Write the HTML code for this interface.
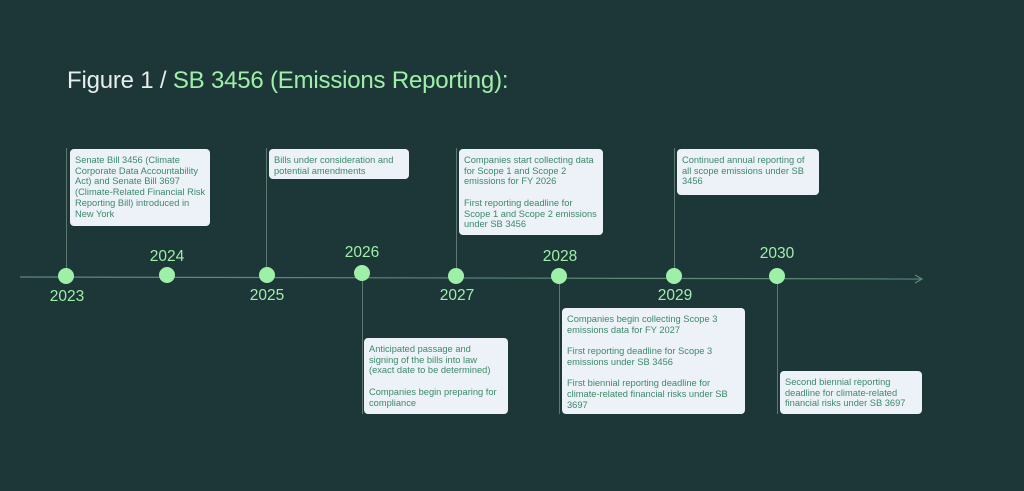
<!DOCTYPE html>
<html><head><meta charset="utf-8"><style>
html,body{margin:0;padding:0}
body{width:1024px;height:491px;background:#1d3637;position:relative;overflow:hidden;font-family:"Liberation Sans",sans-serif}
.t{position:absolute;left:67px;top:67px;font-size:24px;color:#e6efe9;white-space:nowrap;letter-spacing:-0.2px}
.t span{color:#9ef0a8}
.b{position:absolute;background:#edf1f8;border-radius:4px;color:#3b8a68;font-size:9.3px;line-height:10.7px;padding:6px 3px 4px 5px;box-sizing:border-box}
.b p{margin:0 0 10.7px 0}.b p:last-child{margin:0}
.v{position:absolute;width:1px;background:#5d7a72}
.d{position:absolute;width:16px;height:16px;border-radius:50%;background:#9ef0a8}
.y{position:absolute;font-size:15.5px;color:#9ef0a8;width:60px;text-align:center}
</style></head><body>
<div class="t">Figure 1 / <span>SB 3456 (Emissions Reporting):</span></div>
<svg width="1024" height="491" style="position:absolute;left:0;top:0">
<line x1="20" y1="277" x2="922" y2="279" stroke="#5d8a78" stroke-width="1.2"/>
<polyline points="915,275 922,279 915,283" fill="none" stroke="#5d8a78" stroke-width="1.2"/>
</svg>
<div class="v" style="left:66px;top:148px;height:128px"></div>
<div class="v" style="left:266px;top:148px;height:128px"></div>
<div class="v" style="left:456px;top:148px;height:128px"></div>
<div class="v" style="left:674px;top:148px;height:128px"></div>
<div class="v" style="left:362px;top:276px;height:138px"></div>
<div class="v" style="left:559px;top:276px;height:138px"></div>
<div class="v" style="left:777px;top:276px;height:138px"></div>
<div class="d" style="left:58px;top:268px"></div>
<div class="d" style="left:159px;top:267px"></div>
<div class="d" style="left:259px;top:267px"></div>
<div class="d" style="left:354px;top:265px"></div>
<div class="d" style="left:448px;top:268px"></div>
<div class="d" style="left:551px;top:268px"></div>
<div class="d" style="left:666px;top:268px"></div>
<div class="d" style="left:769px;top:268px"></div>
<div class="y" style="left:37px;top:288px">2023</div>
<div class="y" style="left:137px;top:248px">2024</div>
<div class="y" style="left:237px;top:287px">2025</div>
<div class="y" style="left:332px;top:244px">2026</div>
<div class="y" style="left:427px;top:287px">2027</div>
<div class="y" style="left:530px;top:248px">2028</div>
<div class="y" style="left:645px;top:287px">2029</div>
<div class="y" style="left:747px;top:245px">2030</div>
<div class="b" style="left:70px;top:149px;width:140px;height:77px">Senate Bill 3456 (Climate Corporate Data Accountability Act) and Senate Bill 3697 (Climate-Related Financial Risk Reporting Bill) introduced in New York</div>
<div class="b" style="left:269px;top:149px;width:140px;height:30px">Bills under consideration and potential amendments</div>
<div class="b" style="left:459px;top:149px;width:144px;height:86px"><p>Companies start collecting data for Scope 1 and Scope 2 emissions for FY 2026</p><p>First reporting deadline for Scope 1 and Scope 2 emissions under SB 3456</p></div>
<div class="b" style="left:677px;top:149px;width:142px;height:46px">Continued annual reporting of all scope emissions under SB 3456</div>
<div class="b" style="left:364px;top:338px;width:144px;height:76px;white-space:nowrap"><p>Anticipated passage and<br>signing of the bills into law<br>(exact date to be determined)</p><p>Companies begin preparing for<br>compliance</p></div>
<div class="b" style="left:562px;top:308px;width:183px;height:106px"><p>Companies begin collecting Scope 3 emissions data for FY 2027</p><p>First reporting deadline for Scope 3 emissions under SB 3456</p><p>First biennial reporting deadline for climate-related financial risks under SB 3697</p></div>
<div class="b" style="left:780px;top:371px;width:142px;height:43px">Second biennial reporting deadline for climate-related financial risks under SB 3697</div>
</body></html>
